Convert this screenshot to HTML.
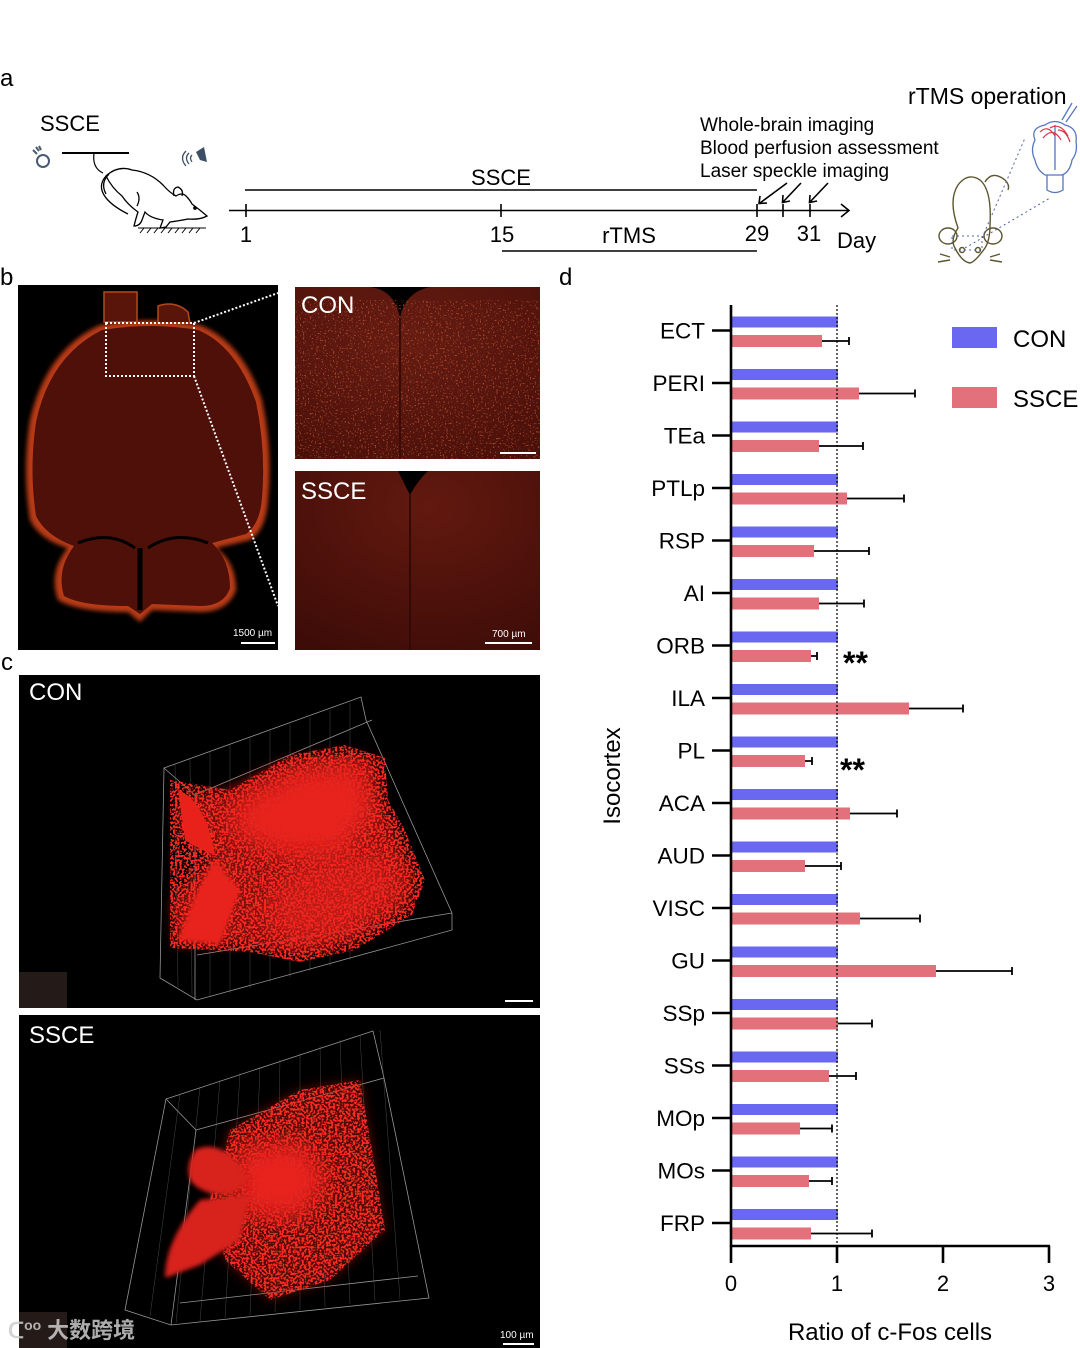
<!DOCTYPE html>
<html><head><meta charset="utf-8"><style>
html,body{margin:0;padding:0;background:#fff;}
svg{display:block;}
text{font-family:"Liberation Sans","Noto Sans CJK SC",sans-serif;}
</style></head><body>
<svg width="1080" height="1348" viewBox="0 0 1080 1348" xmlns="http://www.w3.org/2000/svg">
<defs>
<filter id="speck" x="0" y="0" width="100%" height="100%">
<feTurbulence type="fractalNoise" baseFrequency="0.45" numOctaves="1" seed="4" result="n"/>
<feColorMatrix in="n" type="matrix" values="0 0 0 0 0  0 0 0 0 0  0 0 0 0 0  0 0 0 10 -4.6" result="m"/>
<feComposite in="SourceGraphic" in2="m" operator="in"/>
</filter>
<filter id="speck2" x="0" y="0" width="100%" height="100%">
<feTurbulence type="fractalNoise" baseFrequency="0.6" numOctaves="1" seed="9" result="n"/>
<feColorMatrix in="n" type="matrix" values="0 0 0 0 0  0 0 0 0 0  0 0 0 0 0  0 0 0 14 -8.6" result="m"/>
<feComposite in="SourceGraphic" in2="m" operator="in"/>
</filter>
<filter id="blur2"><feGaussianBlur stdDeviation="2"/></filter>
<filter id="blur6"><feGaussianBlur stdDeviation="6"/></filter>
<filter id="blur12"><feGaussianBlur stdDeviation="12"/></filter>
<radialGradient id="conz" cx="0.45" cy="0.3" r="0.8">
<stop offset="0" stop-color="#651c12"/><stop offset="1" stop-color="#4a100a"/></radialGradient>
<radialGradient id="sscez" cx="0.55" cy="0.2" r="0.9">
<stop offset="0" stop-color="#62190f"/><stop offset="1" stop-color="#3e0c08"/></radialGradient>
<clipPath id="cb1"><rect x="295" y="287" width="245" height="172"/></clipPath>
<clipPath id="cb2"><rect x="295" y="471" width="245" height="179"/></clipPath>
<clipPath id="cc1"><rect x="19" y="675" width="521" height="333"/></clipPath>
<clipPath id="cc2"><rect x="19" y="1015" width="521" height="333"/></clipPath>
</defs>

<!-- ================= Panel a ================= -->
<text x="0" y="86" font-size="24">a</text>
<text x="40" y="131" font-size="22">SSCE</text>
<g fill="none" stroke="#4a5a70" stroke-width="2">
<circle cx="43" cy="161" r="6"/>
<path d="M33 150 l4 4 M36 147 l3 4 M39 146 l2 4"/>
</g>
<line x1="62" y1="153" x2="129" y2="153" stroke="#000" stroke-width="2"/>
<path d="M94 153 Q92 168 103 173" fill="none" stroke="#000" stroke-width="1.2"/>
<g fill="#3d4e66"><path d="M196 152 L204 147 L207 162 L200 160 Z"/></g>
<g fill="none" stroke="#3d4e66" stroke-width="1.3"><path d="M192 155 q-3 3 0 7 M189 153 q-5 5 0 11 M186 151 q-7 7 0 15"/></g>
<g fill="none" stroke="#000" stroke-width="1.3">
<path d="M106 176 Q118 165 132 170 Q150 172 163 185 Q170 193 176 196 Q182 192 186 196 Q190 200 192 204 Q200 210 207 216 Q200 220 188 219 Q178 221 170 222 L166 227 L160 228 L163 220 Q150 218 145 212 L142 220 Q140 226 134 226 Q136 218 138 212 Q128 205 122 196 Q112 188 106 176 Z"/>
<path d="M106 176 Q98 185 104 195 Q110 205 128 214"/>
<path d="M109 174 Q100 183 106 194"/>
<path d="M174 196 Q172 188 178 187 Q184 190 182 196"/>
<circle cx="195" cy="208" r="1.2" fill="#000"/>
<path d="M137 206 q4 -8 0 -14"/>
</g>
<g stroke="#000" stroke-width="1"><line x1="138" y1="228" x2="206" y2="228"/>
<path d="M140 233 l4 -5 M147 233 l4 -5 M154 233 l4 -5 M161 233 l4 -5 M168 233 l4 -5 M175 233 l4 -5 M182 233 l4 -5 M189 233 l4 -5 M196 233 l4 -5"/></g>

<text x="501" y="185" font-size="22" text-anchor="middle">SSCE</text>
<line x1="245" y1="190" x2="757" y2="190" stroke="#000" stroke-width="1.6"/>
<line x1="229" y1="210.5" x2="849" y2="210.5" stroke="#000" stroke-width="1.6"/>
<path d="M841 204 L849 210.5 L841 217" fill="none" stroke="#000" stroke-width="1.6"/>
<g stroke="#000" stroke-width="1.6">
<line x1="246" y1="204" x2="246" y2="217"/>
<line x1="501" y1="204" x2="501" y2="217"/>
<line x1="757" y1="204" x2="757" y2="217"/>
<line x1="783" y1="204" x2="783" y2="217"/>
<line x1="810" y1="204" x2="810" y2="217"/>
</g>
<text x="246" y="242" font-size="22" text-anchor="middle">1</text>
<text x="502" y="242" font-size="22" text-anchor="middle">15</text>
<text x="757" y="241" font-size="22" text-anchor="middle">29</text>
<text x="809" y="241" font-size="22" text-anchor="middle">31</text>
<text x="837" y="248" font-size="22">Day</text>
<text x="629" y="243" font-size="22" text-anchor="middle">rTMS</text>
<line x1="502" y1="251" x2="757" y2="251" stroke="#000" stroke-width="1.6"/>
<text x="700" y="131" font-size="19">Whole-brain imaging</text>
<text x="700" y="154" font-size="19">Blood perfusion assessment</text>
<text x="700" y="177" font-size="19">Laser speckle imaging</text>
<g stroke="#000" stroke-width="1.6" fill="none">
<line x1="787" y1="183" x2="760" y2="203"/><path d="M760 196 L759 203.5 L767 203"/>
<line x1="801" y1="183" x2="783" y2="202"/><path d="M783 195 L782.5 202.5 L790 201"/>
<line x1="828" y1="183" x2="810" y2="202"/><path d="M810 195 L809.5 202.5 L817 201"/>
</g>
<text x="908" y="104" font-size="23">rTMS operation</text>
<g fill="none" stroke="#5c5630" stroke-width="1.4">
<path d="M958 228 Q948 200 958 185 Q968 172 980 180 Q992 190 990 225 Q990 240 985 248 Q975 262 970 263 Q962 262 955 248 Q950 240 958 228 Z"/>
<path d="M985 182 Q992 170 1005 180 Q1010 185 1008 190"/>
<ellipse cx="948" cy="236" rx="9" ry="8"/><ellipse cx="993" cy="236" rx="9" ry="8"/>
<circle cx="962" cy="250" r="2.5"/><circle cx="978" cy="250" r="2.5"/>
<path d="M950 257 l-10 -3 M950 260 l-12 2 M990 257 l10 -3 M990 260 l12 2"/>
</g>
<g stroke="#5060a0" stroke-width="1" stroke-dasharray="2,3" fill="none">
<line x1="982" y1="238" x2="1025" y2="138"/>
<line x1="965" y1="248" x2="1050" y2="198"/>
<rect x="952" y="236" width="30" height="14"/>
</g>
<g fill="none" stroke="#5577bb" stroke-width="1.3">
<path d="M1035 140 Q1030 128 1045 125 Q1055 118 1065 125 Q1078 128 1076 142 Q1078 152 1072 160 Q1070 172 1062 175 L1045 175 Q1037 170 1035 160 Q1030 150 1035 140 Z"/>
<path d="M1047 175 L1047 190 Q1055 195 1063 190 L1063 175"/>
<path d="M1055 125 L1055 170"/>
<line x1="1062" y1="120" x2="1072" y2="103"/><line x1="1066" y1="122" x2="1077" y2="106"/>
</g>
<g fill="none" stroke="#dd3344" stroke-width="1.2">
<path d="M1040 132 q8 -8 15 4 M1043 138 q10 -12 18 2 M1050 128 q10 -6 18 8 M1058 130 q8 0 12 12"/>
</g>

<!-- ================= Panel b ================= -->
<text x="0" y="285" font-size="24">b</text>
<rect x="18" y="285" width="260" height="365" fill="#000"/>
<g>
<path d="M100 325 Q150 316 200 325 Q242 342 262 400 Q273 450 268 500 Q266 530 250 540 L216 548 Q236 562 236 590 Q228 612 200 612 L152 610 L140 622 L128 612 Q78 612 58 600 Q48 572 68 548 Q40 540 30 520 Q22 470 30 420 Q46 350 100 325 Z" fill="#b83a14" filter="url(#blur2)"/>
<path d="M102 330 Q150 322 198 330 Q236 346 256 402 Q266 450 262 498 Q260 524 246 534 L212 543 Q230 560 230 588 Q224 606 200 606 L152 604 L140 614 L128 606 Q82 606 64 596 Q56 570 74 546 Q46 536 36 516 Q29 470 36 422 Q50 356 102 330 Z" fill="#4e1009"/>
<rect x="104" y="292" width="33" height="30" fill="#5a150b" stroke="#b04a1a" stroke-width="1.5"/>
<path d="M158 306 Q175 300 188 312 L190 323 L158 323 Z" fill="#5a150b" stroke="#b04a1a" stroke-width="1.5"/>
<path d="M78 543 Q110 530 135 548 M148 548 Q175 530 208 543" fill="none" stroke="#000" stroke-width="3"/>
<line x1="140" y1="548" x2="140" y2="610" stroke="#000" stroke-width="5"/>
</g>
<rect x="106" y="323" width="88" height="53" fill="none" stroke="#fff" stroke-width="2" stroke-dasharray="2,2"/>
<line x1="194" y1="323" x2="278" y2="293" stroke="#fff" stroke-width="2" stroke-dasharray="2,2"/>
<line x1="194" y1="376" x2="278" y2="606" stroke="#fff" stroke-width="2" stroke-dasharray="2,2"/>
<text x="233" y="636" font-size="10" fill="#fff">1500 µm</text>
<line x1="241" y1="643" x2="275" y2="643" stroke="#fff" stroke-width="2"/>

<g clip-path="url(#cb1)">
<rect x="295" y="287" width="245" height="172" fill="url(#conz)"/>
<path d="M370 287 Q395 290 400 318 Q405 292 430 287 Z" fill="#000"/>
<rect x="295" y="300" width="245" height="159" fill="#f07040" opacity="0.5" filter="url(#speck2)"/>
<line x1="400" y1="318" x2="400" y2="459" stroke="#3a0c08" stroke-width="2"/>
</g>
<text x="301" y="313" font-size="24" fill="#fff">CON</text>
<line x1="500" y1="453" x2="536" y2="453" stroke="#fff" stroke-width="2"/>

<g clip-path="url(#cb2)">
<rect x="295" y="471" width="245" height="179" fill="url(#sscez)"/>
<path d="M398 471 Q405 485 410 495 Q418 480 428 471 Z" fill="#000"/>
<line x1="410" y1="495" x2="410" y2="650" stroke="#340a06" stroke-width="2"/>
</g>
<text x="301" y="499" font-size="24" fill="#fff">SSCE</text>
<text x="492" y="637" font-size="10" fill="#fff">700 µm</text>
<line x1="485" y1="643" x2="532" y2="643" stroke="#fff" stroke-width="2"/>

<!-- ================= Panel c ================= -->
<text x="1" y="670" font-size="24">c</text>
<rect x="19" y="675" width="521" height="333" fill="#000"/>
<g clip-path="url(#cc1)">
<rect x="19" y="972" width="48" height="36" fill="#241a17"/>
<g fill="none" stroke="#bbb" stroke-width="0.8" opacity="0.8">
<path d="M164 768 L361 697 L366 720 L452 913 L452 930 L197 1000 L160 978 Z"/>
<path d="M164 768 L195 795 L195 1000 M195 795 L372 720 M197 955 L452 913"/>
</g>
<g stroke="#777" stroke-width="0.5" opacity="0.6">
<path d="M175 764 L178 987 M190 758 L192 995 M210 752 L210 997 M230 745 L230 993 M250 738 L250 988 M270 731 L270 982 M290 724 L290 977 M310 717 L310 971 M330 710 L330 966 M350 703 L350 960"/>
</g>
<path d="M178 800 L230 790 L290 760 L340 752 L375 760 L378 800 L395 830 L415 880 L405 910 L350 940 L300 955 L250 945 L175 945 L172 900 L210 860 L180 830 Z" fill="#c81a14" opacity="0.6" filter="url(#blur6)"/>
<path d="M170 780 L230 790 L290 755 L345 745 L385 758 L388 800 L405 830 L425 880 L412 915 L355 950 L300 962 L250 952 L170 948 Z" fill="#ff2a20" filter="url(#speck)"/>
<path d="M240 800 L300 770 L360 765 L375 810 L340 855 L280 855 L230 830 Z" fill="#e8241c" filter="url(#blur12)"/>
<path d="M178 790 Q205 800 215 855 Q200 850 185 840 Z" fill="#e8221a"/>
<path d="M215 860 Q200 880 178 940 L220 945 L240 890 Z" fill="#e8221a" filter="url(#blur2)"/>
<path d="M300 860 L380 850 L405 890 L350 935 L290 945 L260 910 Z" fill="#e8241c" opacity="0.6" filter="url(#blur12)"/>
</g>
<text x="29" y="700" font-size="24" fill="#fff">CON</text>
<line x1="505" y1="1001" x2="533" y2="1001" stroke="#fff" stroke-width="2"/>

<rect x="19" y="1015" width="521" height="333" fill="#000"/>
<g clip-path="url(#cc2)">
<g fill="none" stroke="#bbb" stroke-width="0.8" opacity="0.8">
<path d="M166 1099 L373 1031 L384 1078 L429 1298 L171 1325 L125 1310 Z"/>
<path d="M166 1099 L196 1130 L171 1325 M196 1130 L384 1078 M180 1303 L418 1276"/>
</g>
<g stroke="#777" stroke-width="0.5" opacity="0.6">
<path d="M180 1094 L150 1316 M200 1087 L176 1323 M220 1080 L200 1321 M240 1073 L225 1318 M260 1067 L250 1315 M280 1060 L275 1312 M300 1053 L300 1310 M320 1046 L325 1307 M340 1040 L350 1304 M360 1035 L375 1301 M380 1030 L400 1299"/>
</g>
<path d="M230 1130 L300 1090 L360 1080 L372 1150 L385 1230 L330 1280 L270 1300 L225 1260 L210 1200 Z" fill="#a01410" opacity="0.5" filter="url(#blur6)"/>
<path d="M230 1130 L300 1090 L360 1080 L372 1150 L385 1230 L330 1280 L270 1300 L225 1260 L210 1200 Z" fill="#ff2a20" filter="url(#speck)"/>
<path d="M235 1150 L300 1140 L330 1180 L300 1220 L240 1215 Z" fill="#e8241c" filter="url(#blur12)"/>
<path d="M195 1150 Q215 1140 235 1160 L250 1180 L230 1195 Q200 1195 190 1180 Q185 1165 195 1150 Z" fill="#d8201a" filter="url(#blur2)"/>
<path d="M200 1200 L250 1195 L240 1240 L200 1265 L165 1278 Q165 1240 200 1200 Z" fill="#d8201a" filter="url(#blur2)"/>
<rect x="19" y="1312" width="48" height="36" fill="#241a17"/>
</g>
<text x="29" y="1043" font-size="24" fill="#fff">SSCE</text>
<text x="500" y="1338" font-size="10" fill="#fff">100 µm</text>
<line x1="503" y1="1344" x2="534" y2="1344" stroke="#fff" stroke-width="2"/>
<text x="8" y="1338" font-size="22" fill="#ccc" opacity="0.85" font-weight="bold">ᑕ<tspan font-size="14" dy="-8">oo</tspan><tspan dy="8" dx="6" font-size="22">大数跨境</tspan></text>

<!-- ================= Panel d ================= -->
<text x="559" y="285" font-size="24">d</text>
<text transform="translate(620,776) rotate(-90)" font-size="24" text-anchor="middle">Isocortex</text>
<g fill="#6a67f0">
<rect x="732" y="316.5" width="106" height="11"/>
<rect x="732" y="369" width="106" height="11"/>
<rect x="732" y="421.5" width="106" height="11"/>
<rect x="732" y="474" width="106" height="11"/>
<rect x="732" y="526.5" width="106" height="11"/>
<rect x="732" y="579" width="106" height="11"/>
<rect x="732" y="631.5" width="106" height="11"/>
<rect x="732" y="684" width="106" height="11"/>
<rect x="732" y="736.5" width="106" height="11"/>
<rect x="732" y="789" width="106" height="11"/>
<rect x="732" y="841.5" width="106" height="11"/>
<rect x="732" y="894" width="106" height="11"/>
<rect x="732" y="946.5" width="106" height="11"/>
<rect x="732" y="999" width="106" height="11"/>
<rect x="732" y="1051.5" width="106" height="11"/>
<rect x="732" y="1104" width="106" height="11"/>
<rect x="732" y="1156.5" width="106" height="11"/>
<rect x="732" y="1209" width="106" height="11"/>
</g>
<g fill="#e2717b">
<rect x="732" y="335" width="90" height="12"/>
<rect x="732" y="387.5" width="127" height="12"/>
<rect x="732" y="440" width="87" height="12"/>
<rect x="732" y="492.5" width="115" height="12"/>
<rect x="732" y="545" width="82" height="12"/>
<rect x="732" y="597.5" width="87" height="12"/>
<rect x="732" y="650" width="79" height="12"/>
<rect x="732" y="702.5" width="177" height="12"/>
<rect x="732" y="755" width="73" height="12"/>
<rect x="732" y="807.5" width="118" height="12"/>
<rect x="732" y="860" width="73" height="12"/>
<rect x="732" y="912.5" width="128" height="12"/>
<rect x="732" y="965" width="204" height="12"/>
<rect x="732" y="1017.5" width="106" height="12"/>
<rect x="732" y="1070" width="97" height="12"/>
<rect x="732" y="1122.5" width="68" height="12"/>
<rect x="732" y="1175" width="77" height="12"/>
<rect x="732" y="1227.5" width="79" height="12"/>
</g>
<line x1="837" y1="305" x2="837" y2="1246" stroke="#000" stroke-width="1.2" stroke-dasharray="2,2"/>
<g stroke="#000" stroke-width="1.8">
<path d="M822 341 H849 M849 337 V345"/>
<path d="M859 393.5 H915 M915 389.5 V397.5"/>
<path d="M819 446 H863 M863 442 V450"/>
<path d="M847 498.5 H904 M904 494.5 V502.5"/>
<path d="M814 551 H869 M869 547 V555"/>
<path d="M819 603.5 H864 M864 599.5 V607.5"/>
<path d="M811 656 H817 M817 652 V660"/>
<path d="M909 708.5 H963 M963 704.5 V712.5"/>
<path d="M805 761 H812 M812 757 V765"/>
<path d="M850 813.5 H897 M897 809.5 V817.5"/>
<path d="M805 866 H841 M841 862 V870"/>
<path d="M860 918.5 H920 M920 914.5 V922.5"/>
<path d="M936 971 H1012 M1012 967 V975"/>
<path d="M838 1023.5 H872 M872 1019.5 V1027.5"/>
<path d="M829 1076 H856 M856 1072 V1080"/>
<path d="M800 1128.5 H832 M832 1124.5 V1132.5"/>
<path d="M809 1181 H832 M832 1177 V1185"/>
<path d="M811 1233.5 H872 M872 1229.5 V1237.5"/>
</g>
<g stroke="#000" stroke-width="2.6">
<line x1="731" y1="305" x2="731" y2="1247"/>
<line x1="730" y1="1246" x2="1050" y2="1246"/>
<line x1="731" y1="1246" x2="731" y2="1263"/>
<line x1="837" y1="1246" x2="837" y2="1263"/>
<line x1="943" y1="1246" x2="943" y2="1263"/>
<line x1="1049" y1="1246" x2="1049" y2="1263"/>
<line x1="712" y1="330.5" x2="731" y2="330.5"/>
<line x1="712" y1="383" x2="731" y2="383"/>
<line x1="712" y1="435.5" x2="731" y2="435.5"/>
<line x1="712" y1="488" x2="731" y2="488"/>
<line x1="712" y1="540.5" x2="731" y2="540.5"/>
<line x1="712" y1="593" x2="731" y2="593"/>
<line x1="712" y1="645.5" x2="731" y2="645.5"/>
<line x1="712" y1="698" x2="731" y2="698"/>
<line x1="712" y1="750.5" x2="731" y2="750.5"/>
<line x1="712" y1="803" x2="731" y2="803"/>
<line x1="712" y1="855.5" x2="731" y2="855.5"/>
<line x1="712" y1="908" x2="731" y2="908"/>
<line x1="712" y1="960.5" x2="731" y2="960.5"/>
<line x1="712" y1="1013" x2="731" y2="1013"/>
<line x1="712" y1="1065.5" x2="731" y2="1065.5"/>
<line x1="712" y1="1118" x2="731" y2="1118"/>
<line x1="712" y1="1170.5" x2="731" y2="1170.5"/>
<line x1="712" y1="1223" x2="731" y2="1223"/>
</g>
<g font-size="22.5" text-anchor="end">
<text x="705" y="338.5">ECT</text>
<text x="705" y="391">PERI</text>
<text x="705" y="443.5">TEa</text>
<text x="705" y="496">PTLp</text>
<text x="705" y="548.5">RSP</text>
<text x="705" y="601">AI</text>
<text x="705" y="653.5">ORB</text>
<text x="705" y="706">ILA</text>
<text x="705" y="758.5">PL</text>
<text x="705" y="811">ACA</text>
<text x="705" y="863.5">AUD</text>
<text x="705" y="916">VISC</text>
<text x="705" y="968.5">GU</text>
<text x="705" y="1021">SSp</text>
<text x="705" y="1073.5">SSs</text>
<text x="705" y="1126">MOp</text>
<text x="705" y="1178.5">MOs</text>
<text x="705" y="1231">FRP</text>
</g>
<g font-size="22" text-anchor="middle">
<text x="731" y="1291">0</text>
<text x="837" y="1291">1</text>
<text x="943" y="1291">2</text>
<text x="1049" y="1291">3</text>
</g>
<text x="890" y="1340" font-size="24" text-anchor="middle">Ratio of c-Fos cells</text>
<text x="843" y="674" font-size="32" font-weight="bold">**</text>
<text x="840" y="781" font-size="32" font-weight="bold">**</text>
<rect x="952" y="327" width="45" height="21" fill="#6a67f0"/>
<text x="1013" y="347" font-size="24">CON</text>
<rect x="952" y="387" width="45" height="21" fill="#e2717b"/>
<text x="1013" y="407" font-size="24">SSCE</text>
</svg>
</body></html>
